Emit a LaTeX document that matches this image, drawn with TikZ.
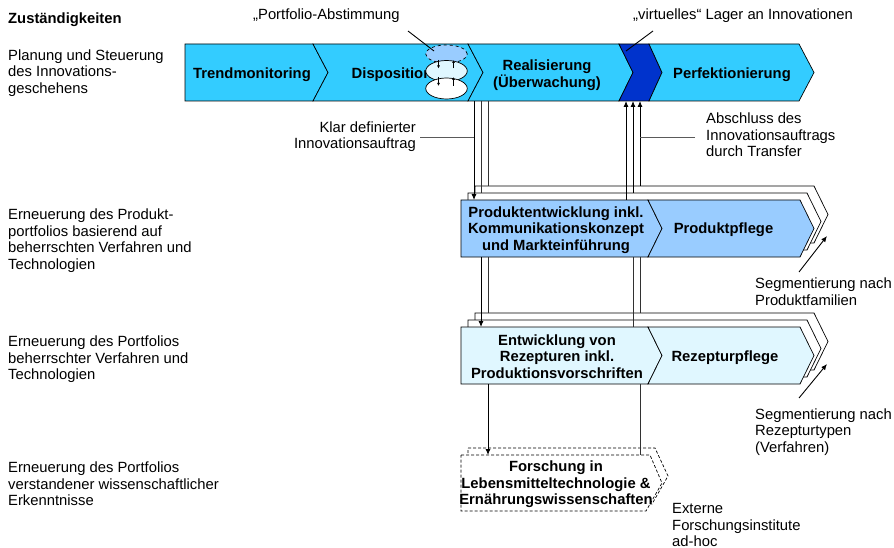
\documentclass[tikz,border=0pt]{standalone}
\usepackage{fontspec}
\setmainfont{Liberation Sans}
\usetikzlibrary{arrows.meta,shapes.geometric}
\definecolor{bandblue}{RGB}{51,204,255}
\definecolor{darkblue}{RGB}{0,51,204}
\definecolor{prodblue}{RGB}{153,204,255}
\definecolor{recblue}{RGB}{224,247,255}
\definecolor{linegray}{RGB}{50,50,50}
\definecolor{leadgray}{RGB}{90,90,90}
\begin{document}
\begin{tikzpicture}[x=1pt,y=-1pt,
  txt/.style={font=\fontsize{14.8}{16.5}\selectfont, inner sep=0pt},
  btxt/.style={font=\fontsize{14.8}{16.5}\selectfont\bfseries, inner sep=0pt},
  chev/.style={draw=black, line width=0.7pt, line join=miter},
  layer/.style={draw=black, fill=white, line width=0.7pt, line join=miter},
  dlayer/.style={draw=black, fill=white, line width=0.7pt, dashed, dash pattern=on 3pt off 2pt},
  conn/.style={draw=linegray, line width=0.9pt},
  lead/.style={draw=leadgray, line width=0.9pt},
  arr/.style={-{Latex[length=6pt,width=5pt]}},
  sarr/.style={-{Latex[length=3pt,width=3pt]}, line width=0.8pt},
  ell/.style={ellipse, draw=black, line width=0.7pt, minimum width=41.5pt, inner sep=0pt}
]
\useasboundingbox (0,0) rectangle (894,548);

% ---------- top band ----------
\path[chev, fill=bandblue] (185,44) -- (313,44) -- (328,72.5) -- (313,101) -- (185,101) -- cycle;
\path[chev, fill=bandblue] (313,44) -- (468,44) -- (483,72.5) -- (468,101) -- (313,101) -- (328,72.5) -- cycle;
\path[chev, fill=bandblue] (468,44) -- (619,44) -- (633,72.5) -- (619,101) -- (468,101) -- (483,72.5) -- cycle;
\path[chev, fill=darkblue] (619,44) -- (649,44) -- (662,72.5) -- (649,101) -- (619,101) -- (633,72.5) -- cycle;
\path[chev, fill=bandblue] (649,44) -- (799,44) -- (814,72.5) -- (799,101) -- (649,101) -- (662,72.5) -- cycle;

\node[btxt, anchor=base] (trend) at (252,78.3) {Trendmonitoring};
\node[btxt, anchor=base] (dispo) at (392,78.3) {Disposition};
\node[btxt, anchor=north, align=center] (real) at (547,59.8) {Realisierung\\(Überwachung)};
\node[btxt, anchor=base] (perf) at (732,78.5) {Perfektionierung};

% ellipses
\node[ell, dashed, fill=prodblue, minimum height=18pt] (e1) at (446.5,54) {};
\node[ell, fill=recblue, minimum height=21pt] (e2) at (446.5,71) {};
\node[ell, fill=white, minimum height=21pt] (e3) at (446.5,88.5) {};
\coordinate (a1s) at (438.5,60); \coordinate (a1e) at (438.5,68.5);
\coordinate (a2s) at (453.5,68.5); \coordinate (a2e) at (453.5,60);
\coordinate (a3s) at (438.5,77); \coordinate (a3e) at (438.5,86);
\coordinate (a4s) at (453.5,86); \coordinate (a4e) at (453.5,77);
\draw[sarr] (a1s) -- (a1e);
\draw[sarr] (a2s) -- (a2e);
\draw[sarr] (a3s) -- (a3e);
\draw[sarr] (a4s) -- (a4e);

% ---------- product stack ----------
\path[layer] (475,186) -- (814,186) -- (828,214.5) -- (814,243) -- (475,243) -- cycle;
\path[layer] (468,193) -- (807,193) -- (821,221.5) -- (807,250) -- (468,250) -- cycle;
\path[chev, fill=prodblue] (461,200) -- (648,200) -- (662,228.5) -- (648,257) -- (461,257) -- cycle;
\path[chev, fill=prodblue] (648,200) -- (800,200) -- (814,228.5) -- (800,257) -- (648,257) -- (662,228.5) -- cycle;
\node[btxt, anchor=north, align=center] (prodent) at (556,206.3) {Produktentwicklung inkl.\\Kommunikationskonzept\\und Markteinführung};
\node[btxt, anchor=base] (prodpfl) at (723.5,233.5) {Produktpflege};

% ---------- recipe stack ----------
\path[layer] (475,313) -- (814,313) -- (828,341.5) -- (814,370) -- (475,370) -- cycle;
\path[layer] (468,320) -- (807,320) -- (821,348.5) -- (807,377) -- (468,377) -- cycle;
\path[chev, fill=recblue] (461,327) -- (648,327) -- (662,355.5) -- (648,384) -- (461,384) -- cycle;
\path[chev, fill=recblue] (648,327) -- (800,327) -- (814,355.5) -- (800,384) -- (648,384) -- (662,355.5) -- cycle;
\node[btxt, anchor=north, align=center] (recent) at (557,334.3) {Entwicklung von\\Rezepturen inkl.\\Produktionsvorschriften};
\node[btxt, anchor=base] (recpfl) at (725,361) {Rezepturpflege};

% ---------- research (dashed) ----------
\path[dlayer] (468,448) -- (655,448) -- (668,476) -- (652,504) -- (468,504) -- cycle;
\path[dlayer] (461,455) -- (650,455) -- (662,483) -- (646,511) -- (461,511) -- cycle;
\node[btxt, anchor=north, align=center] (research) at (556,461) {Forschung in\\Lebensmitteltechnologie \&\\Ernährungswissenschaften};

% ---------- connector end points ----------
\coordinate (d1a) at (474,101); \coordinate (d1b) at (474,200);
\coordinate (d2a) at (481,101); \coordinate (d2b) at (481,193);
\coordinate (d3a) at (488,101); \coordinate (d3b) at (488,186);
\coordinate (u1a) at (626,200); \coordinate (u1b) at (626,101);
\coordinate (u2a) at (633,193); \coordinate (u2b) at (633,101);
\coordinate (u3a) at (640,186); \coordinate (u3b) at (640,101);
\coordinate (m1a) at (481,257); \coordinate (m1b) at (481,327);
\coordinate (m2a) at (488,257); \coordinate (m2b) at (488,313);
\coordinate (m3a) at (633,257); \coordinate (m3b) at (633,327);
\coordinate (m4a) at (640,257); \coordinate (m4b) at (640,313);
\coordinate (r1a) at (488,384); \coordinate (r1b) at (488,455);
\coordinate (r2a) at (640,384); \coordinate (r2b) at (640,455);

\draw[conn, arr, draw=black] (d1a) -- (d1b);
\draw[conn] (d2a) -- (d2b);
\draw[conn] (d3a) -- (d3b);
\draw[conn, arr, draw=black] (u1a) -- (u1b);
\draw[conn, arr, draw=black] (u2a) -- (u2b);
\draw[conn, arr, draw=black] (u3a) -- (u3b);
\draw[conn, arr, draw=black] (m1a) -- (m1b);
\draw[conn] (m2a) -- (m2b);
\draw[conn] (m3a) -- (m3b);
\draw[conn] (m4a) -- (m4b);
\draw[conn, arr, draw=black] (r1a) -- (r1b);
\draw[conn] (r2a) -- (r2b);

% ---------- left column ----------
\node[btxt, anchor=base west] (zust) at (8,24) {Zuständigkeiten};
\node[txt, anchor=north west, align=left] (plan) at (8,49.3) {Planung und Steuerung\\des Innovations-\\geschehens};
\node[txt, anchor=north west, align=left] (ern1) at (8,208.8) {Erneuerung des Produkt-\\portfolios basierend auf\\beherrschten Verfahren und\\Technologien};
\node[txt, anchor=north west, align=left] (ern2) at (8,335.8) {Erneuerung des Portfolios\\beherrschter Verfahren und\\Technologien};
\node[txt, anchor=north west, align=left] (ern3) at (8,461.8) {Erneuerung des Portfolios\\verstandener wissenschaftlicher\\Erkenntnisse};

% ---------- annotations ----------
\node[txt, anchor=base west] (portf) at (253,20) {„Portfolio-Abstimmung};
\node[txt, anchor=base west] (virt) at (633,20) {„virtuelles“ Lager an Innovationen};
\coordinate (pl1) at (408,31); \coordinate (pl2) at (434,51);
\draw[lead, draw=black] (pl1) -- (pl2);
\coordinate (vl1) at (653,31); \coordinate (vl2) at (626,51);
\draw[lead, draw=black] (vl1) -- (vl2);

\node[txt, anchor=north east, align=right] (klar) at (416,121.3) {Klar definierter\\Innovationsauftrag};
\coordinate (kl1) at (420,137); \coordinate (kl2) at (474,137);
\draw[lead] (kl1) -- (kl2);

\node[txt, anchor=north west, align=left] (abschl) at (706,112.8) {Abschluss des\\Innovationsauftrags\\durch Transfer};
\coordinate (al1) at (695,137); \coordinate (al2) at (640,137);
\draw[lead] (al1) -- (al2);

\node[txt, anchor=north west, align=left] (seg1) at (755,277.8) {Segmentierung nach\\Produktfamilien};
\coordinate (s1a) at (799,272); \coordinate (s1b) at (827,236);
\draw[conn, arr, draw=black] (s1a) -- (s1b);

\node[txt, anchor=north west, align=left] (seg2) at (755,408.3) {Segmentierung nach\\Rezepturtypen\\(Verfahren)};
\coordinate (s2a) at (799,398); \coordinate (s2b) at (827,364);
\draw[conn, arr, draw=black] (s2a) -- (s2b);

\node[txt, anchor=north west, align=left] (ext) at (672,503.3) {Externe\\Forschungsinstitute\\ad-hoc};
\end{tikzpicture}
\end{document}
